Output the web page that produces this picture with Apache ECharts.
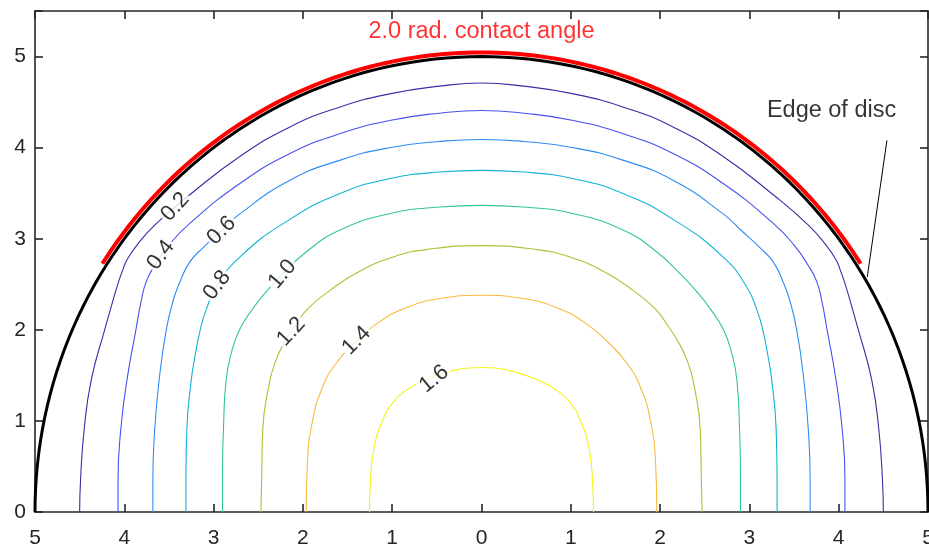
<!DOCTYPE html>
<html>
<head>
<meta charset="utf-8">
<script src="https://cdn.jsdelivr.net/npm/echarts@6/dist/echarts.min.js"></script>
<style>html,body{margin:0;padding:0;background:#fff}#main{width:929px;height:550px}</style>
</head>
<body>
<div id="main"></div>
<script>
// contour levels, and the left half of each contour (from y=0 up to the top at x=0)
var levels = [0.2, 0.4, 0.6, 0.8, 1.0, 1.2, 1.4, 1.6];
var c02 = [[-4.50,0],[-4.49,0.35],[-4.45,0.90],[-4.37,1.45],[-4.22,2.00],[-4.11,2.38],[-4.06,2.54],[-4.02,2.65],[-3.97,2.77],[-3.85,2.94],[-3.66,3.15],[-3.27,3.48],[-2.71,3.90],[-2.15,4.225],[-1.59,4.444],[-1.03,4.59],[-0.47,4.675],[0,4.71]];
var c04 = [[-4.07,0],[-4.07,0.35],[-4.04,0.90],[-3.97,1.45],[-3.87,2.00],[-3.81,2.32],[-3.75,2.54],[-3.65,2.72],[-3.50,2.93],[-3.27,3.165],[-2.71,3.604],[-2.15,3.933],[-1.59,4.152],[-1.03,4.298],[-0.47,4.378],[0,4.408]];
var c06 = [[-3.68,0],[-3.68,0.35],[-3.66,0.90],[-3.61,1.45],[-3.53,2.00],[-3.45,2.33],[-3.38,2.52],[-3.27,2.74],[-3.12,2.90],[-2.91,3.09],[-2.71,3.27],[-2.15,3.64],[-1.59,3.86],[-1.03,3.999],[-0.47,4.068],[0,4.09]];
var c08 = [[-3.31,0],[-3.31,0.35],[-3.30,0.90],[-3.25,1.45],[-3.21,1.70],[-3.15,2.00],[-3.08,2.23],[-2.97,2.47],[-2.71,2.796],[-2.15,3.21],[-1.59,3.494],[-1.03,3.659],[-0.47,3.732],[0,3.75]];
var c10 = [[-2.90,0],[-2.90,0.45],[-2.89,0.90],[-2.86,1.45],[-2.80,1.75],[-2.71,2.00],[-2.56,2.233],[-2.40,2.43],[-2.24,2.60],[-1.963,2.854],[-1.59,3.092],[-1.03,3.275],[-0.47,3.348],[0,3.366]];
var c12 = [[-2.47,0],[-2.46,0.45],[-2.45,0.90],[-2.39,1.34],[-2.30,1.67],[-2.19,1.89],[-2.07,2.07],[-1.944,2.233],[-1.70,2.43],[-1.37,2.64],[-0.99,2.80],[-0.62,2.88],[0,2.924]];
var c14 = [[-1.963,0],[-1.95,0.53],[-1.89,1.01],[-1.78,1.37],[-1.63,1.63],[-1.40,1.88],[-1.14,2.09],[-0.85,2.24],[-0.47,2.343],[0,2.379]];
var c16 = [[-1.254,0],[-1.243,0.35],[-1.20,0.72],[-1.105,1.01],[-1.00,1.19],[-0.85,1.33],[-0.65,1.44],[-0.40,1.53],[-0.15,1.58],[0,1.587]];
var halves = [c02, c04, c06, c08, c10, c12, c14, c16];
var colors = ['#3d2aa5', '#4650ef', '#2c8cf5', '#12b2d8', '#35c49e', '#a6c436', '#fbba3c', '#f4f417'];

// where the contour labels sit and how they are turned
var labelPts = [[-3.43,3.35],[-3.59,2.82],[-2.91,3.09],[-2.96,2.49],[-2.23,2.61],[-2.13,1.98],[-1.40,1.88],[-0.53,1.46]];
var labelAngles = [48, 53, 45, 53, 50, 47, 45, 39];

var discRadius = 5;
var contactAngle = 2.0; // rad, centred on the top of the disc
var pointerLine = [[4.54,4.08],[4.32,2.58]];

function mirrored(half) {
    var right = half.slice(0, -1).reverse().map(function (p) { return [-p[0], p[1]]; });
    return half.concat(right);
}

function arc(r, a0, a1) {
    var pts = [];
    var n = 120;
    for (var i = 0; i <= n; i++) {
        var t = a0 + (a1 - a0) * i / n;
        pts.push([r * Math.cos(t), r * Math.sin(t)]);
    }
    return pts;
}

var axisColor = '#262626';
var font = "'Liberation Sans', Arial, Helvetica, sans-serif";

var series = [];
halves.forEach(function (h, i) {
    series.push({
        type: 'line', data: mirrored(h), smooth: 0.5, showSymbol: false, silent: true,
        lineStyle: { color: colors[i], width: 1.1 }, z: 2
    });
});
series.push({
    type: 'line', data: arc(discRadius + 0.045, Math.PI / 2 - contactAngle / 2, Math.PI / 2 + contactAngle / 2),
    showSymbol: false, silent: true, lineStyle: { color: '#ff0000', width: 4 }, z: 3
});
series.push({
    type: 'line', data: arc(discRadius, 0, Math.PI),
    showSymbol: false, silent: true, lineStyle: { color: '#000', width: 3 }, z: 4
});
series.push({
    type: 'line', data: pointerLine, showSymbol: false, silent: true,
    lineStyle: { color: '#000', width: 1 }, z: 4
});
series.push({
    type: 'scatter', symbolSize: 0.1, silent: true, z: 5,
    itemStyle: { color: 'rgba(0,0,0,0)' },
    data: labelPts.map(function (p, i) {
        return {
            value: p,
            label: {
                show: true, position: 'inside', rotate: labelAngles[i],
                formatter: levels[i].toFixed(1),
                color: '#000', fontSize: 22, fontFamily: font,
                backgroundColor: '#fff', padding: [0, 2]
            }
        };
    })
});
series.push({
    type: 'scatter', symbolSize: 0.1, silent: true, z: 6,
    itemStyle: { color: 'rgba(0,0,0,0)' },
    data: [
        { value: [0, 5.27], label: { show: true, position: 'inside', formatter: '2.0 rad. contact angle', color: '#ff0000', fontSize: 23.5, fontFamily: font } },
        { value: [3.92, 4.41], label: { show: true, position: 'inside', formatter: 'Edge of disc', color: '#000', fontSize: 23.5, fontFamily: font } }
    ]
});

function axisBase(pos, showLabels) {
    return {
        type: 'value', position: pos, interval: 1,
        axisLine: { show: true, onZero: false, lineStyle: { color: axisColor, width: 1.6 } },
        axisTick: { show: true, inside: true, length: 8, lineStyle: { color: axisColor, width: 1.6 } },
        splitLine: { show: false },
        axisLabel: { show: showLabels, color: axisColor, fontSize: 21, fontFamily: font }
    };
}

var xb = axisBase('bottom', true);
xb.min = -5; xb.max = 5;
xb.axisLabel.margin = 16;
xb.axisLabel.formatter = function (v) { return String(Math.abs(v)); };
var xt = axisBase('top', false);
xt.min = -5; xt.max = 5;
var yl = axisBase('left', true);
yl.min = 0; yl.max = 5.5;
yl.axisLabel.margin = 9;
yl.axisLabel.formatter = function (v) { return v % 1 === 0 ? String(v) : ''; };
var yr = axisBase('right', false);
yr.min = 0; yr.max = 5.5;

var chart = echarts.init(document.getElementById('main'));
chart.setOption({
    animation: false,
    backgroundColor: '#fff',
    grid: { left: 35, right: 1, top: 11, bottom: 38, containLabel: false, outerBoundsMode: 'none' },
    xAxis: [xb, xt],
    yAxis: [yl, yr],
    series: series
});
</script>
</body>
</html>
